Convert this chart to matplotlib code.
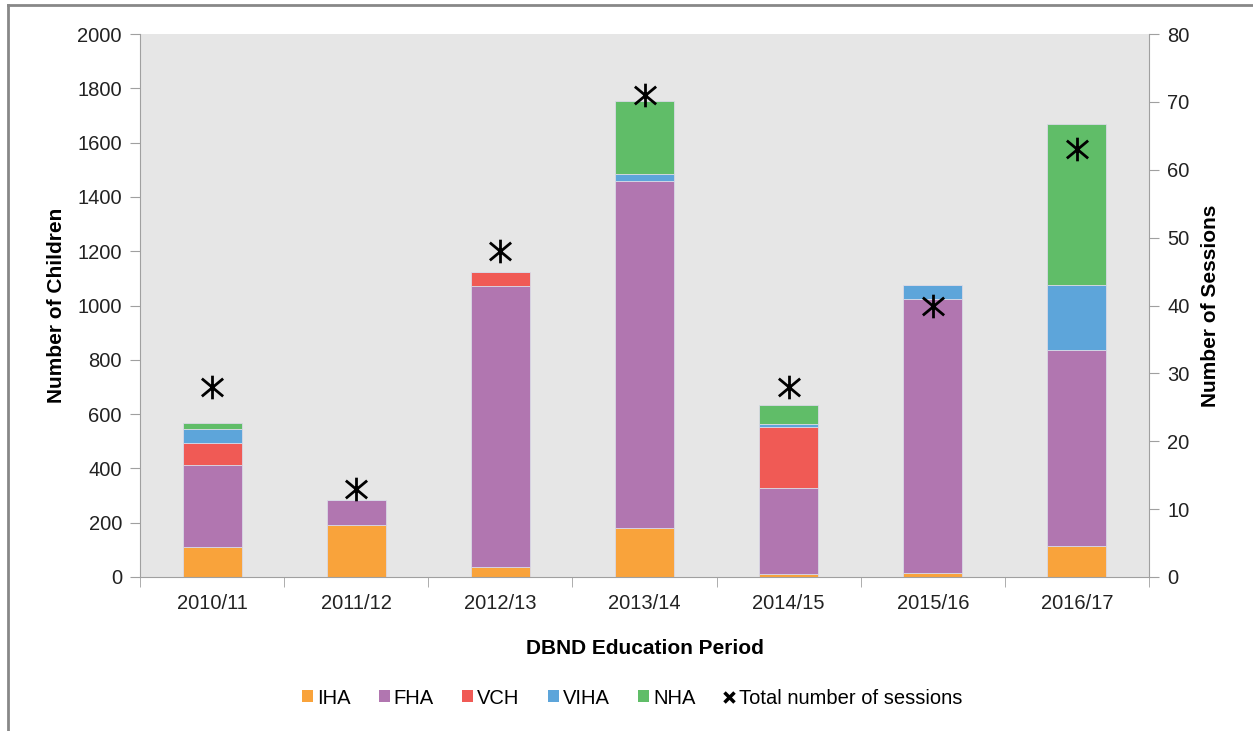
import numpy as np
import matplotlib
matplotlib.use('Agg')
import matplotlib.pyplot as plt
from matplotlib.lines import Line2D
from matplotlib.patches import Patch
from matplotlib.path import Path

plt.rcParams['font.family'] = ['Liberation Sans', 'DejaVu Sans']

periods = ['2010/11', '2011/12', '2012/13', '2013/14', '2014/15', '2015/16', '2016/17']
iha = [110, 190, 38, 180, 11, 16, 114]
fha = [301, 95, 1034, 1280, 316, 1008, 722]
vch = [81, 0, 51, 0, 225, 0, 0]
viha = [52, 0, 0, 23, 12, 53, 241]
nha = [22, 0, 0, 269, 68, 0, 591]
sessions = [28, 13, 48, 71, 28, 40, 63]

series = [('IHA', iha, '#F9A33B'), ('FHA', fha, '#B176B0'), ('VCH', vch, '#F05A55'),
          ('VIHA', viha, '#5DA5DA'), ('NHA', nha, '#60BD68')]

# star marker: vertical stroke plus an x
star = Path([(0, -1), (0, 1), (-0.9, -0.75), (0.9, 0.75), (-0.9, 0.75), (0.9, -0.75)],
            [Path.MOVETO, Path.LINETO, Path.MOVETO, Path.LINETO, Path.MOVETO, Path.LINETO])

fig = plt.figure(figsize=(12.53, 7.31), dpi=100)
ax = fig.add_axes([140 / 1253, 1 - 577 / 731, (1149 - 140) / 1253, (577 - 34) / 731])
ax.set_facecolor('#E6E6E6')

x = np.arange(len(periods))
bottom = np.zeros(len(periods))
for name, vals, col in series:
    ax.bar(x, vals, 0.41, bottom=bottom, color=col, edgecolor='#D9D9E6', linewidth=0.6, label=name, zorder=2)
    bottom += np.array(vals)

ax.set_xlim(-0.5, len(periods) - 0.5)
ax.set_ylim(0, 2000)
ax.set_yticks(range(0, 2001, 200))
ax.set_xticks(x)
ax.set_xticklabels(periods)
ax.set_xticks(np.arange(-0.5, len(periods), 1), minor=True)
ax.tick_params(axis='x', which='major', length=0, pad=12, labelsize=14.5, colors='#222222')
ax.tick_params(axis='x', which='minor', length=7, color='#A0A0A0')
ax.tick_params(axis='y', length=7, color='#A0A0A0', labelsize=14.5, labelcolor='#222222', pad=6)
for s in ['top', 'right']:
    ax.spines[s].set_visible(False)
for s in ['left', 'bottom']:
    ax.spines[s].set_color('#A0A0A0')
ax.set_ylabel('Number of Children', fontsize=15, fontweight='bold', labelpad=8)
ax.set_xlabel('DBND Education Period', fontsize=15, fontweight='bold', labelpad=19)

ax2 = ax.twinx()
ax2.set_ylim(0, 80)
ax2.set_yticks(range(0, 81, 10))
ax2.plot(x, sessions, linestyle='none', marker=star, markersize=17,
         markeredgewidth=2.0, color='black', zorder=3)
ax2.tick_params(axis='y', length=7, color='#A0A0A0', labelsize=14.5, labelcolor='#222222', pad=6)
for s in ['top', 'left', 'bottom']:
    ax2.spines[s].set_visible(False)
ax2.spines['right'].set_color('#A0A0A0')
ax2.set_ylabel('Number of Sessions', fontsize=15, fontweight='bold', labelpad=8)

handles = [Patch(facecolor=c, edgecolor='none') for _, _, c in series]
handles.append(Line2D([], [], linestyle='none', marker='x', markersize=7, markeredgewidth=2.5, color='black'))
labels = [n for n, _, _ in series] + ['Total number of sessions']
fig.legend(handles, labels, loc='center', bbox_to_anchor=(632 / 1253, 1 - 698 / 731), ncol=6,
           frameon=False, fontsize=14.5, handlelength=0.55, handleheight=0.55, handletextpad=0.2,
           columnspacing=1.4)

fig.add_artist(Line2D([8 / 1253, 8 / 1253], [0, 1 - 5 / 731], transform=fig.transFigure, color='#888888', linewidth=2))
fig.add_artist(Line2D([8 / 1253, 1], [1 - 5 / 731, 1 - 5 / 731], transform=fig.transFigure, color='#888888', linewidth=2))

fig.savefig('out.png', dpi=100)
